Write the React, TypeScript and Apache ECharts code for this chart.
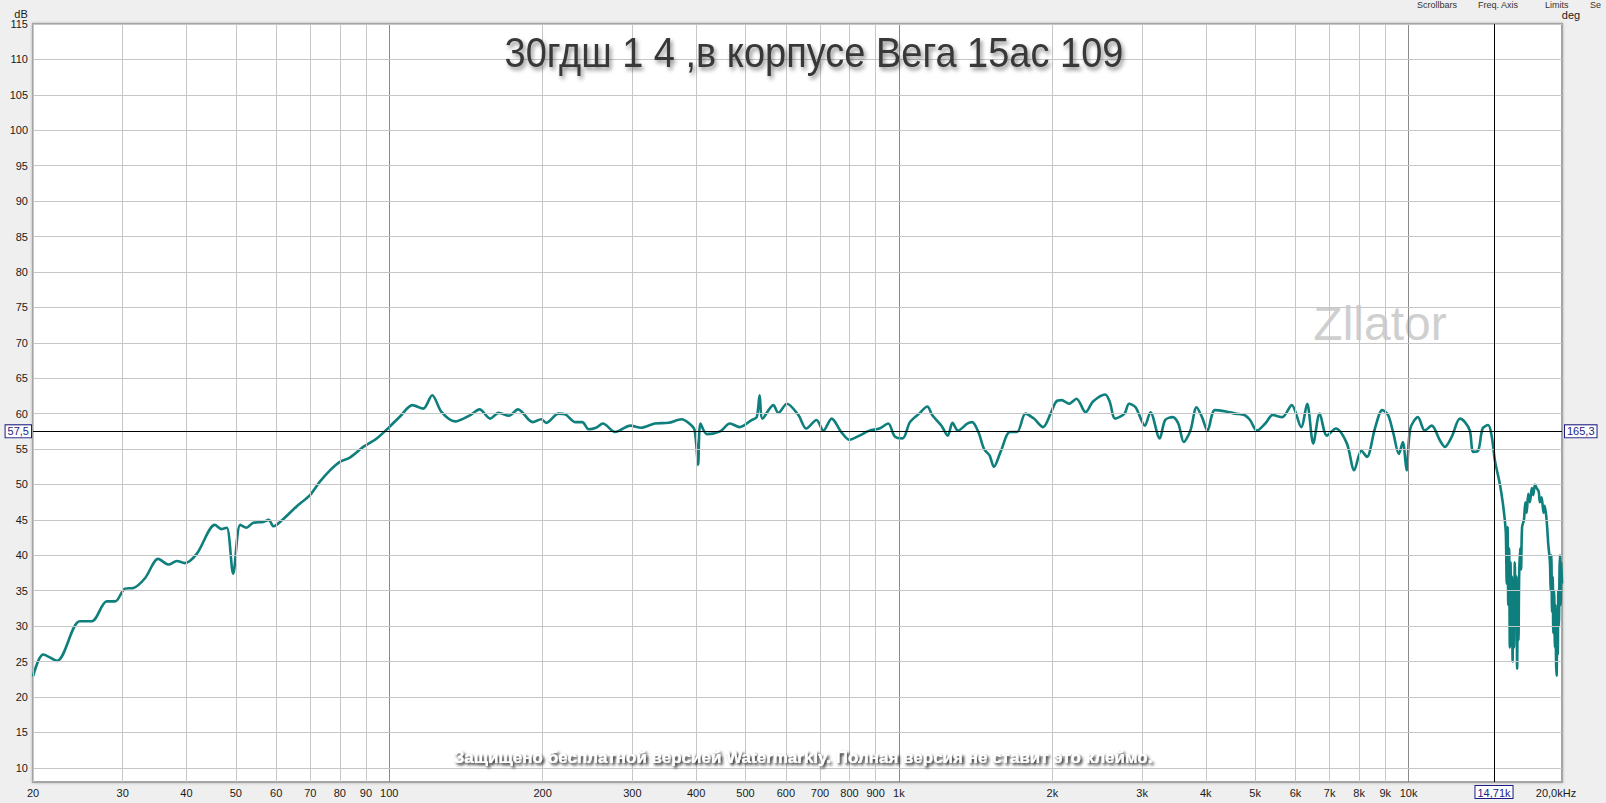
import React, { useEffect, useRef } from "react";
import * as echarts from "echarts";

const TITLE = "30гдш 1 4 ,в корпусе Вега 15ас 109";
const WATERMARK = "Защищено бесплатной версией Watermarkly. Полная версия не ставит это клеймо.";
const LOGO = "Zllator";
const MENU_ITEMS = ["Scrollbars", "Freq. Axis", "Limits", "Se"];
const MENU_X = [1417, 1478, 1545, 1590];

const freqHz = [
  20, 20.95, 22.3, 24.7, 26.1, 27.9, 29.0, 30.3, 31.5, 33.2, 35.2, 36.9, 38.3, 39.7, 41.9,
  45.5, 46.9, 48.0, 49.4, 51.0, 52.5, 54.1, 56.6, 58.0, 59.3, 61.5, 65.8, 69.9, 73.1, 76.5,
  80.0, 83.7, 88.9, 94.5, 100, 105, 111, 116.6, 121.4, 126.7, 134.6, 144.2, 150.4, 157.8,
  163.9, 171.7, 178.9, 191.2, 198.7, 203.3, 214.7, 221.4, 231.9, 239.2, 246.1, 254.5, 262.6,
  277.3, 297.5, 311.9, 331.8, 353.1, 374.8, 387.9, 397.2, 403.6, 408, 420, 446, 466, 487,
  514, 526, 533, 540, 567, 580, 603, 635, 658, 689, 711, 738, 771, 800, 837, 875, 916, 953,
  981, 1017, 1051, 1096, 1137, 1162, 1212, 1247, 1274, 1306, 1362, 1392, 1432, 1469, 1506,
  1536, 1583, 1651, 1706, 1771, 1840, 1918, 1984, 2035, 2086, 2157, 2230, 2325, 2404, 2540,
  2591, 2657, 2771, 2828, 2913, 3038, 3115, 3248, 3330, 3444, 3533, 3622, 3732, 3837, 3933,
  4031, 4167, 4383, 4571, 4764, 4887, 5039, 5233, 5413, 5650, 5898, 6157, 6324, 6500, 6692,
  6912, 7201, 7566, 7823, 8076, 8285, 8590, 8880, 9117, 9336, 9570, 9743, 9910, 10080, 10430,
  10760, 11100, 11524, 11786, 12148, 12612, 12900, 13190, 13390, 13700, 13972, 14330, 14550,
  14770, 15100, 15300, 15450, 15520, 15580, 15640, 15690, 15750, 15800, 15850, 15900, 15950,
  16000, 16050, 16100, 16160, 16220, 16280, 16330, 16380, 16430, 16480, 16550, 16620, 16700,
  16840, 16950, 17050, 17170, 17300, 17450, 17560, 17700, 17830, 18000, 18100, 18240, 18400,
  18500, 18660, 18800, 18940, 19000, 19060, 19120, 19180, 19230, 19300, 19370, 19420, 19470,
  19520, 19570, 19620, 19670, 19720, 19780, 19820, 19880, 19940, 20000,
];

const splDb = [
  22.9, 26.0, 25.1, 30.7, 30.7, 33.5, 33.5, 35.3, 35.4, 36.8, 39.5, 38.7, 39.2, 38.9, 40.2,
  44.3, 43.7, 43.9, 37.4, 44.3, 43.9, 44.6, 44.7, 45.0, 44.1, 44.9, 46.9, 48.5, 50.4, 52.0,
  53.2, 53.8, 55.3, 56.5, 58.1, 59.6, 61.2, 60.7, 62.6, 60.2, 58.9, 59.8, 60.6, 59.3,
  60.1, 59.7, 60.6, 58.8, 59.2, 58.7, 60.0, 59.9, 58.8, 58.8, 57.8, 58.0, 58.6,
  57.4, 58.3, 58.0, 58.6, 58.7, 59.2, 58.6, 57.7, 52.8, 58.6, 57.1, 57.5, 58.6, 58.1,
  59.1, 59.5, 62.6, 59.3, 61.2, 60.1, 61.4, 59.8, 57.9, 59.1, 57.6, 59.3, 57.4, 56.3, 56.9, 57.6, 57.9, 58.6,
  56.8, 56.5, 58.8, 60.0, 61.0, 59.8, 58.3, 56.9, 58.7, 57.6, 58.6, 58.8, 57.4, 55.0, 54.1,
  52.5, 54.6, 57.4, 57.4, 60.0, 59.3, 58.1, 60.0, 61.7, 61.9, 61.4, 62.1, 60.2, 61.7, 62.7,
  61.7, 59.3, 60.0, 61.4, 60.9, 58.3, 60.2, 56.5, 59.1, 59.5, 58.6, 56.0, 57.6, 60.9, 59.5,
  57.6, 60.5, 60.3, 60.0, 59.8, 59.1, 57.6, 58.6, 59.8, 59.5, 61.2, 58.1, 61.4, 55.8, 60.0,
  56.9, 57.9, 55.8, 52.0, 54.8, 53.9, 57.9, 60.5, 59.8, 57.2, 54.3, 56.0, 52.0, 57.9, 59.5,
  57.6, 58.3, 56.2, 55.3, 56.7, 59.3, 58.8, 57.6, 54.6, 54.8, 57.9, 58.4, 56.9,
  53.4, 50.1, 47.5, 44.9, 43.0, 36.0, 44.0, 33.0, 41.0, 27.0, 39.0, 30.0, 37.0,
  25.0, 36.0, 27.0, 39.0, 30.0, 37.0, 24.0, 35.0, 28.0, 37.0, 41.0, 38.0, 44.0,
  45.0, 47.5, 46.0, 48.7, 47.5, 49.5, 48.5, 50.0, 49.5, 49.0, 47.5, 48.2, 46.0,
  47.0, 44.9, 41.5, 39.0, 35.0, 40.0, 32.0, 37.0, 29.0, 35.0, 27.0, 33.0, 25.0,
  23.0, 31.0, 26.0, 35.0, 30.0, 38.0, 40.0, 33.0, 39.0, 36.0,
];

const xGridHz = [
  20, 30, 40, 50, 60, 70, 80, 90, 100, 200, 300, 400, 500, 600, 700, 800, 900,
  1000, 2000, 3000, 4000, 5000, 6000, 7000, 8000, 9000, 10000,
];
const xTickLabels = [
  "20", "30", "40", "50", "60", "70", "80", "90", "100", "200", "300", "400", "500", "600",
  "700", "800", "900", "1k", "2k", "3k", "4k", "5k", "6k", "7k", "8k", "9k", "10k",
];
const decadeHz = [100, 1000, 10000];
const xEndLabel = "20,0kHz";
const dbTicks = [10, 15, 20, 25, 30, 35, 40, 45, 50, 55, 60, 65, 70, 75, 80, 85, 90, 95, 100, 105, 110, 115];
const degTicks = [-120, -90, -60, -30, 0, 30, 60, 90, 120, 150, 180, 210, 240, 270, 300, 330, 360, 390, 420, 450, 480, 510];
const cursorHz = 14710;
const cursorHzLabel = "14,71k";
const cursorDb = 57.5;
const cursorDbLabel = "57,5";
const cursorDegLabel = "165,3";

const FONT = "'Liberation Sans', Arial, sans-serif";
const LABEL_COLOR = "#1a1a1a";
const GRID_COLOR = "#c6c6c6";
const DECADE_COLOR = "#8a8a8a";
const CURVE_COLOR = "#0f7f7d";
const CURSOR_BOX = "#1c1c84";

export default function App() {
  const ref = useRef<HTMLDivElement>(null);

  useEffect(() => {
    if (!ref.current) return;
    const chart = echarts.init(ref.current, undefined, { renderer: "svg" });

    const axisLabelStyle = { color: LABEL_COLOR, fontSize: 11, fontFamily: FONT };

    const gridLines: any[] = [];
    xGridHz.forEach((f, i) => {
      gridLines.push({
        xAxis: f,
        lineStyle: { color: decadeHz.includes(f) ? DECADE_COLOR : GRID_COLOR, width: 1, type: "solid" },
        label: { show: true, position: "start", formatter: xTickLabels[i], distance: 5, ...axisLabelStyle },
      });
    });
    dbTicks.forEach((v) => {
      gridLines.push({
        yAxis: v,
        lineStyle: { color: GRID_COLOR, width: 1, type: "solid" },
        label: { show: true, position: "start", formatter: String(v), distance: 5, ...axisLabelStyle },
      });
    });

    const degLines = degTicks.map((d) => ({
      yAxis: d,
      lineStyle: { opacity: 0 },
      label: { show: true, position: "end", formatter: String(d), distance: 4, ...axisLabelStyle },
    }));

    const boxLabel = {
      show: true,
      color: CURSOR_BOX,
      fontSize: 11,
      fontFamily: FONT,
      backgroundColor: "#ffffff",
      borderColor: CURSOR_BOX,
      borderWidth: 1,
      padding: [1, 2, 0, 2],
    };

    const cursorLines = [
      {
        xAxis: cursorHz,
        lineStyle: { color: "#000", width: 1, type: "solid" },
        label: { ...boxLabel, position: "start", formatter: cursorHzLabel, distance: 4 },
      },
      {
        yAxis: cursorDb,
        lineStyle: { color: "#000", width: 1, type: "solid" },
        label: { ...boxLabel, position: "start", formatter: cursorDbLabel, distance: 2 },
      },
      {
        yAxis: cursorDb,
        lineStyle: { color: "#000", width: 1, type: "solid" },
        label: { ...boxLabel, position: "end", formatter: cursorDegLabel, distance: 3 },
      },
    ];

    const menuTexts = MENU_ITEMS.map((t, i) => ({
      type: "text",
      x: MENU_X[i],
      y: 0,
      style: {
        text: t,
        fontSize: 9,
        fontFamily: FONT,
        fill: "#333",
        align: "left",
        verticalAlign: "top",
      },
      z: 10,
    }));

    const option: any = {
      animation: false,
      backgroundColor: "#efefef",
      grid: {
        left: 33,
        top: 24,
        right: 44,
        bottom: 21,
        show: true,
        backgroundColor: "#ffffff",
        borderColor: "#a4a4a4",
        borderWidth: 2,
        shadowColor: "rgba(0,0,0,0.25)",
        shadowBlur: 3,
      },
      xAxis: {
        type: "log",
        logBase: 10,
        min: 20,
        max: 20000,
        axisLine: { show: false },
        axisTick: { show: false },
        axisLabel: { show: false },
        splitLine: { show: false },
      },
      yAxis: [
        {
          type: "value",
          min: 8,
          max: 115,
          axisLine: { show: false },
          axisTick: { show: false },
          axisLabel: { show: false },
          splitLine: { show: false },
        },
        {
          type: "value",
          min: -132,
          max: 510,
          position: "right",
          axisLine: { show: false },
          axisTick: { show: false },
          axisLabel: { show: false },
          splitLine: { show: false },
        },
      ],
      graphic: [
        {
          type: "text",
          x: 814,
          y: 52,
          scaleY: 1.12,
          style: {
            text: TITLE,
            fontSize: 38,
            fontFamily: FONT,
            fill: "#383838",
            align: "center",
            verticalAlign: "middle",
            textShadowColor: "rgba(0,0,0,0.45)",
            textShadowBlur: 4,
            textShadowOffsetX: 2,
            textShadowOffsetY: 3,
          },
          z: 10,
        },
        {
          type: "text",
          x: 1380,
          y: 323,
          style: {
            text: LOGO,
            fontSize: 48,
            fontFamily: FONT,
            fill: "#cfcfcf",
            align: "center",
            verticalAlign: "middle",
          },
          z: 0,
        },
        {
          type: "text",
          x: 803,
          y: 757,
          style: {
            text: WATERMARK,
            fontSize: 17,
            fontWeight: "bold",
            fontFamily: FONT,
            fill: "#ffffff",
            align: "center",
            verticalAlign: "middle",
            textShadowColor: "rgba(0,0,0,0.95)",
            textShadowBlur: 3,
            textShadowOffsetX: 2,
            textShadowOffsetY: 2,
          },
          z: 10,
        },
        {
          type: "text",
          x: 1556,
          y: 793,
          style: {
            text: xEndLabel,
            fontSize: 11,
            fontFamily: FONT,
            fill: LABEL_COLOR,
            align: "center",
            verticalAlign: "middle",
          },
          z: 10,
        },
        ...menuTexts,
        {
          type: "text",
          x: 21,
          y: 14,
          style: { text: "dB", fontSize: 11, fontFamily: FONT, fill: LABEL_COLOR, align: "center", verticalAlign: "middle" },
        },
        {
          type: "text",
          x: 1571,
          y: 15,
          style: { text: "deg", fontSize: 11, fontFamily: FONT, fill: LABEL_COLOR, align: "center", verticalAlign: "middle" },
        },
      ],
      series: [
        {
          name: "grid",
          type: "line",
          data: [],
          z: 1,
          silent: true,
          markLine: { symbol: ["none", "none"], silent: true, animation: false, data: gridLines },
        },
        {
          name: "deg",
          type: "line",
          yAxisIndex: 1,
          data: [],
          z: 1,
          silent: true,
          markLine: { symbol: ["none", "none"], silent: true, animation: false, data: degLines },
        },
        {
          name: "SPL",
          type: "line",
          data: freqHz.map((f, i) => [f, splDb[i]]),
          showSymbol: false,
          symbol: "none",
          smooth: 0.3,
          lineStyle: { color: CURVE_COLOR, width: 2.6 },
          z: 3,
          clip: true,
        },
        {
          name: "cursor",
          type: "line",
          data: [],
          z: 4,
          silent: true,
          markLine: { symbol: ["none", "none"], silent: true, animation: false, data: cursorLines },
        },
      ],
    };

    chart.setOption(option);
    return () => chart.dispose();
  }, []);

  return (
    <div
      ref={ref}
      style={{ position: "fixed", left: 0, top: 0, width: 1606, height: 803 }}
    />
  );
}
